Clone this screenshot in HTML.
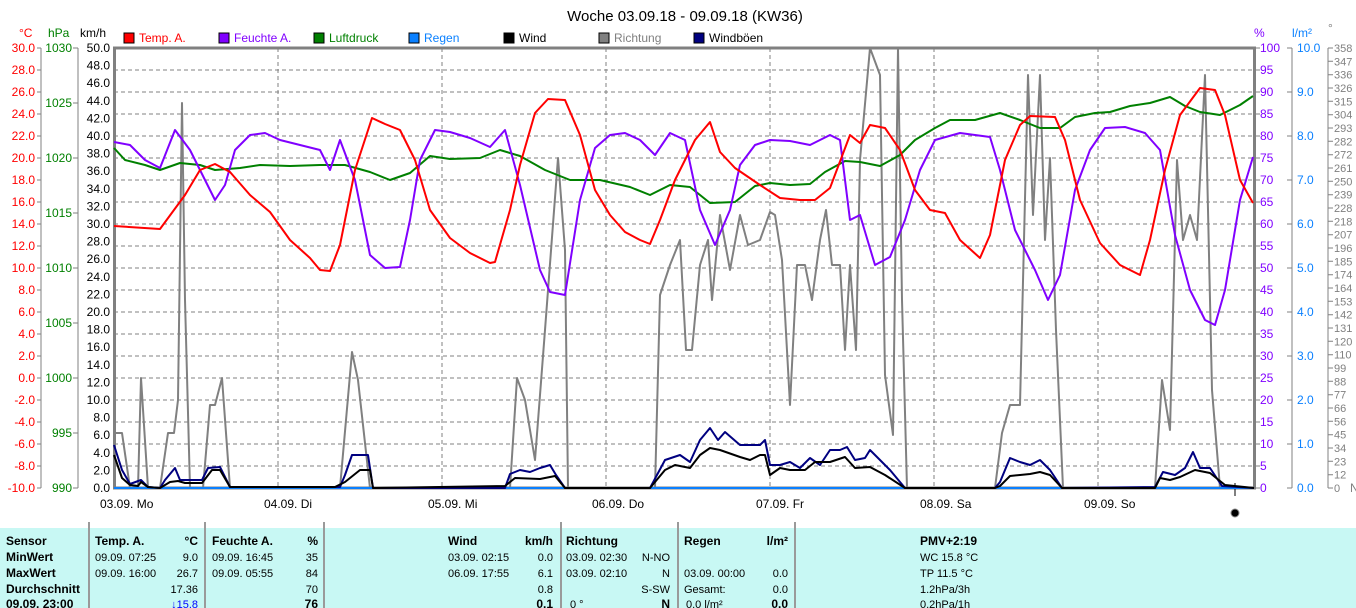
<!DOCTYPE html>
<html><head><meta charset="utf-8"><style>
html,body{margin:0;padding:0;background:#fff;width:1356px;height:608px;overflow:hidden}
svg{display:block;font-family:"Liberation Sans",sans-serif}
</style></head><body>
<svg width="1356" height="608" viewBox="0 0 1356 608" xmlns="http://www.w3.org/2000/svg">
<rect width="1356" height="608" fill="#fff"/>
<text x="685" y="21" font-size="15" text-anchor="middle" fill="#000">Woche 03.09.18 - 09.09.18 (KW36)</text>
<g font-size="12">
<rect x="124" y="33" width="10" height="10" fill="#ff0000" stroke="#000"/><text x="139" y="42" fill="#ff0000">Temp. A.</text>
<rect x="219" y="33" width="10" height="10" fill="#8000ff" stroke="#000"/><text x="234" y="42" fill="#8000ff">Feuchte A.</text>
<rect x="314" y="33" width="10" height="10" fill="#008000" stroke="#000"/><text x="329" y="42" fill="#008000">Luftdruck</text>
<rect x="409" y="33" width="10" height="10" fill="#0a80ff" stroke="#000"/><text x="424" y="42" fill="#0a80ff">Regen</text>
<rect x="504" y="33" width="10" height="10" fill="#000" stroke="#000"/><text x="519" y="42" fill="#000">Wind</text>
<rect x="599" y="33" width="10" height="10" fill="#808080" stroke="#000"/><text x="614" y="42" fill="#808080">Richtung</text>
<rect x="694" y="33" width="10" height="10" fill="#000080" stroke="#000"/><text x="709" y="42" fill="#000">Windböen</text>
</g>
<g font-size="12">
<text x="19" y="37" fill="#ff0000">°C</text>
<text x="48" y="37" fill="#008000">hPa</text>
<text x="80" y="37" fill="#000">km/h</text>
<text x="1254" y="37" fill="#8000ff">%</text>
<text x="1292" y="37" fill="#0a80ff">l/m²</text>
<text x="1328" y="32" fill="#808080">°</text>
</g>
<g stroke="#808080" stroke-dasharray="4,3" stroke-width="1">
<path d="M114 70H1255M114 92H1255M114 114H1255M114 136H1255M114 158H1255M114 180H1255M114 202H1255M114 224H1255M114 246H1255M114 268H1255M114 290H1255M114 312H1255M114 334H1255M114 356H1255M114 378H1255M114 400H1255M114 422H1255M114 444H1255M114 466H1255"/>
<path d="M278 48V488M442 48V488M606 48V488M770 48V488M934 48V488M1098 48V488"/>
</g>
<g stroke="#808080" stroke-width="1" fill="none">
<path d="M41 48V488M78 48V488M1292 48V488M1328 48V488"/>
</g>
<rect x="114.5" y="48" width="1140" height="440" fill="none" stroke="#808080" stroke-width="3"/>
<g font-size="12" fill="#ff0000" text-anchor="end">
<text x="35" y="52">30.0</text><text x="35" y="74">28.0</text><text x="35" y="96">26.0</text><text x="35" y="118">24.0</text><text x="35" y="140">22.0</text><text x="35" y="162">20.0</text><text x="35" y="184">18.0</text><text x="35" y="206">16.0</text><text x="35" y="228">14.0</text><text x="35" y="250">12.0</text><text x="35" y="272">10.0</text><text x="35" y="294">8.0</text><text x="35" y="316">6.0</text><text x="35" y="338">4.0</text><text x="35" y="360">2.0</text><text x="35" y="382">0.0</text><text x="35" y="404">-2.0</text><text x="35" y="426">-4.0</text><text x="35" y="448">-6.0</text><text x="35" y="470">-8.0</text><text x="35" y="492">-10.0</text>
</g>
<g stroke="#808080"><path d="M37 48h4M37 70h4M37 92h4M37 114h4M37 136h4M37 158h4M37 180h4M37 202h4M37 224h4M37 246h4M37 268h4M37 290h4M37 312h4M37 334h4M37 356h4M37 378h4M37 400h4M37 422h4M37 444h4M37 466h4M37 488h4"/>
<path d="M73 48h5M73 103h5M73 158h5M73 213h5M73 268h5M73 323h5M73 378h5M73 433h5M73 488h5"/>
<path d="M1255 48h5M1255 70h5M1255 92h5M1255 114h5M1255 136h5M1255 158h5M1255 180h5M1255 202h5M1255 224h5M1255 246h5M1255 268h5M1255 290h5M1255 312h5M1255 334h5M1255 356h5M1255 378h5M1255 400h5M1255 422h5M1255 444h5M1255 466h5M1255 488h5"/>
<path d="M1287 48h5M1287 92h5M1287 136h5M1287 180h5M1287 224h5M1287 268h5M1287 312h5M1287 356h5M1287 400h5M1287 444h5M1287 488h5"/>
</g>
<g font-size="12" fill="#008000" text-anchor="end">
<text x="72" y="52">1030</text><text x="72" y="107">1025</text><text x="72" y="162">1020</text><text x="72" y="217">1015</text><text x="72" y="272">1010</text><text x="72" y="327">1005</text><text x="72" y="382">1000</text><text x="72" y="437">995</text><text x="72" y="492">990</text>
</g>
<g font-size="12" fill="#000" text-anchor="end">
<text x="110" y="52">50.0</text><text x="110" y="69.6">48.0</text><text x="110" y="87.2">46.0</text><text x="110" y="104.8">44.0</text><text x="110" y="122.4">42.0</text><text x="110" y="140">40.0</text><text x="110" y="157.6">38.0</text><text x="110" y="175.2">36.0</text><text x="110" y="192.8">34.0</text><text x="110" y="210.4">32.0</text><text x="110" y="228">30.0</text><text x="110" y="245.6">28.0</text><text x="110" y="263.2">26.0</text><text x="110" y="280.8">24.0</text><text x="110" y="298.4">22.0</text><text x="110" y="316">20.0</text><text x="110" y="333.6">18.0</text><text x="110" y="351.2">16.0</text><text x="110" y="368.8">14.0</text><text x="110" y="386.4">12.0</text><text x="110" y="404">10.0</text><text x="110" y="421.6">8.0</text><text x="110" y="439.2">6.0</text><text x="110" y="456.8">4.0</text><text x="110" y="474.4">2.0</text><text x="110" y="492">0.0</text>
</g>
<g font-size="12" fill="#8000ff">
<text x="1260" y="52">100</text><text x="1260" y="74">95</text><text x="1260" y="96">90</text><text x="1260" y="118">85</text><text x="1260" y="140">80</text><text x="1260" y="162">75</text><text x="1260" y="184">70</text><text x="1260" y="206">65</text><text x="1260" y="228">60</text><text x="1260" y="250">55</text><text x="1260" y="272">50</text><text x="1260" y="294">45</text><text x="1260" y="316">40</text><text x="1260" y="338">35</text><text x="1260" y="360">30</text><text x="1260" y="382">25</text><text x="1260" y="404">20</text><text x="1260" y="426">15</text><text x="1260" y="448">10</text><text x="1260" y="470">5</text><text x="1260" y="492">0</text>
</g>
<g font-size="12" fill="#0a80ff">
<text x="1297" y="52">10.0</text><text x="1297" y="96">9.0</text><text x="1297" y="140">8.0</text><text x="1297" y="184">7.0</text><text x="1297" y="228">6.0</text><text x="1297" y="272">5.0</text><text x="1297" y="316">4.0</text><text x="1297" y="360">3.0</text><text x="1297" y="404">2.0</text><text x="1297" y="448">1.0</text><text x="1297" y="492">0.0</text>
</g>
<g stroke="#808080"><path d="M1328 48h5M1328 61.3h5M1328 74.7h5M1328 88h5M1328 101.3h5M1328 114.7h5M1328 128h5M1328 141.3h5M1328 154.7h5M1328 168h5M1328 181.3h5M1328 194.7h5M1328 208h5M1328 221.3h5M1328 234.7h5M1328 248h5M1328 261.3h5M1328 274.7h5M1328 288h5M1328 301.3h5M1328 314.7h5M1328 328h5M1328 341.3h5M1328 354.7h5M1328 368h5M1328 381.3h5M1328 394.7h5M1328 408h5M1328 421.3h5M1328 434.7h5M1328 448h5M1328 461.3h5M1328 474.7h5M1328 488h5"/></g>
<g font-size="11" fill="#808080">
<text x="1334" y="52">358</text><text x="1334" y="65.3">347</text><text x="1334" y="78.7">336</text><text x="1334" y="92">326</text><text x="1334" y="105.3">315</text><text x="1334" y="118.7">304</text><text x="1334" y="132">293</text><text x="1334" y="145.3">282</text><text x="1334" y="158.7">272</text><text x="1334" y="172">261</text><text x="1334" y="185.3">250</text><text x="1334" y="198.7">239</text><text x="1334" y="212">228</text><text x="1334" y="225.3">218</text><text x="1334" y="238.7">207</text><text x="1334" y="252">196</text><text x="1334" y="265.3">185</text><text x="1334" y="278.7">174</text><text x="1334" y="292">164</text><text x="1334" y="305.3">153</text><text x="1334" y="318.7">142</text><text x="1334" y="332">131</text><text x="1334" y="345.3">120</text><text x="1334" y="358.7">110</text><text x="1334" y="372">99</text><text x="1334" y="385.3">88</text><text x="1334" y="398.7">77</text><text x="1334" y="412">66</text><text x="1334" y="425.3">56</text><text x="1334" y="438.7">45</text><text x="1334" y="452">34</text><text x="1334" y="465.3">23</text><text x="1334" y="478.7">12</text><text x="1334" y="492">0</text>
</g>
<text x="1350" y="492" font-size="12" fill="#808080">N</text>
<g font-size="12" fill="#000">
<text x="100" y="508">03.09.  Mo</text><text x="264" y="508">04.09.  Di</text><text x="428" y="508">05.09.  Mi</text><text x="592" y="508">06.09.  Do</text><text x="756" y="508">07.09.  Fr</text><text x="920" y="508">08.09.  Sa</text><text x="1084" y="508">09.09.  So</text>
</g>
<path d="M1235 483V496" stroke="#000"/>
<circle cx="1235" cy="513" r="4" fill="#000" stroke="#888" stroke-width="1"/>
<g fill="none" stroke-width="2" stroke-linejoin="round">
<polyline stroke="#808080" points="114,433 122,433 130,488 138,488 141,378 148,488 160,488 168,433 174,433 178,400 182,103 185,300 190,488 203,488 210,405 215,405 222,378 230,488 340,488 352,352 358,380 370,488 510,488 517,378 525,400 535,460 545,330 558,158 565,250 568,488 655,488 660,295 670,265 680,240 686,350 692,350 700,265 708,240 712,300 720,215 730,270 740,215 748,245 760,240 770,212 775,215 782,260 790,405 797,265 805,265 812,300 820,240 826,210 832,265 840,265 845,350 850,265 856,350 860,160 870,48 880,75 885,375 893,435 898,48 902,300 907,488 995,488 1002,433 1010,405 1020,405 1028,75 1033,215 1040,75 1045,240 1050,158 1056,330 1063,488 1155,488 1162,380 1170,430 1177,160 1183,240 1190,215 1197,240 1205,75 1212,390 1220,488 1254,488"/>
<line x1="114" y1="488" x2="1254" y2="488" stroke="#0a80ff"/>
<polyline stroke="#000080" points="114,445 122,470 130,484 141,480 148,487 160,488 165,480 175,468 180,480 202,480 208,468 220,467 230,487 340,487 345,475 352,455 368,455 373,488 505,488 510,474 520,470 530,472 540,468 550,465 556,475 565,488 650,488 665,460 680,455 690,462 700,440 710,428 718,440 725,432 740,445 760,445 765,440 770,465 780,465 790,462 800,468 810,458 820,465 830,450 840,450 847,447 855,460 865,458 870,450 880,460 890,470 905,488 995,488 1000,482 1010,458 1020,462 1030,465 1040,460 1050,470 1062,488 1155,487 1163,472 1175,475 1185,468 1193,452 1200,468 1210,468 1222,486 1254,488"/>
<polyline stroke="#000" points="114,455 122,478 130,485 138,486 141,482 148,487 160,488 170,482 178,481 185,483 202,483 212,470 220,470 230,487 335,487 345,482 360,470 370,470 373,488 505,486 515,478 540,479 555,476 565,488 650,488 665,470 675,465 690,468 700,455 710,448 720,450 740,457 750,460 760,455 765,455 770,475 780,468 790,470 805,470 815,462 830,462 845,457 855,468 870,467 885,475 905,488 995,488 1000,486 1010,476 1020,475 1030,474 1040,472 1050,475 1062,488 1155,488 1160,478 1170,480 1180,477 1195,470 1210,473 1225,485 1254,488"/>
<polyline stroke="#008000" points="114,148 125,160 145,165 160,170 180,163 200,165 215,170 240,168 260,165 290,166 320,165 345,165 370,172 390,180 410,173 430,156 450,159 480,158 500,150 520,156 545,170 570,180 600,180 630,187 650,195 670,185 690,187 710,203 735,202 755,186 770,183 790,185 810,184 825,172 845,161 860,162 880,166 900,155 915,140 935,128 950,120 975,120 1000,113 1020,120 1040,128 1060,128 1075,117 1095,113 1110,112 1130,106 1150,103 1170,97 1185,106 1200,112 1220,115 1240,105 1253,96"/>
<polyline stroke="#8000ff" points="114,142 130,145 145,160 160,168 175,130 190,150 205,180 215,200 225,185 235,150 250,135 265,133 280,140 300,145 320,150 330,170 340,140 355,180 370,255 385,268 400,267 410,220 420,160 435,130 450,132 470,138 490,147 505,130 520,185 540,270 550,292 565,295 580,200 595,148 610,135 625,133 640,140 655,155 670,133 685,140 700,210 715,245 730,210 740,165 755,145 770,140 790,141 810,145 830,135 840,140 850,220 860,215 875,265 890,257 905,220 920,170 935,140 960,133 990,137 1000,170 1015,230 1035,270 1048,300 1060,275 1075,190 1090,150 1105,128 1125,127 1145,133 1160,150 1175,235 1190,290 1205,320 1215,325 1225,290 1240,200 1253,157"/>
<polyline stroke="#ff0000" points="114,226 160,229 185,195 200,170 215,164 230,172 250,195 270,212 290,240 310,258 320,270 330,271 340,245 355,170 372,118 385,124 400,130 415,160 430,210 450,238 470,253 490,263 495,262 510,210 520,165 535,113 548,99 565,100 580,135 595,190 610,215 625,232 640,240 650,244 660,220 675,180 695,140 710,122 720,152 735,168 760,185 780,198 800,200 815,200 830,188 850,135 860,143 870,125 885,128 900,150 915,190 930,210 945,213 960,240 980,258 990,235 1005,160 1020,125 1030,116 1055,117 1065,140 1080,200 1100,243 1120,265 1140,275 1150,240 1165,170 1180,115 1200,88 1215,90 1225,115 1240,180 1253,203"/>
</g>
<rect x="0" y="528" width="1356" height="80" fill="#c8f8f4"/>
<g stroke="#9a9a9a" stroke-width="2"><path d="M89 522V608M205 522V608M324 522V608M561 522V608M678 522V608M795 522V608"/></g>
<g font-size="12" fill="#000">
<g font-weight="bold">
<text x="6" y="545">Sensor</text><text x="6" y="561">MinWert</text><text x="6" y="577">MaxWert</text><text x="6" y="593">Durchschnitt</text><text x="6" y="608">09.09. 23:00</text>
<text x="95" y="545">Temp. A.</text><text x="198" y="545" text-anchor="end">°C</text>
<text x="212" y="545">Feuchte A.</text><text x="318" y="545" text-anchor="end">%</text>
<text x="448" y="545">Wind</text><text x="553" y="545" text-anchor="end">km/h</text>
<text x="566" y="545">Richtung</text>
<text x="684" y="545">Regen</text><text x="788" y="545" text-anchor="end">l/m²</text>
<text x="920" y="545">PMV+2:19</text>
<text x="318" y="608" text-anchor="end">76</text><text x="553" y="608" text-anchor="end">0.1</text><text x="670" y="608" text-anchor="end">N</text><text x="788" y="608" text-anchor="end">0.0</text>
</g>
<g font-size="11">
<text x="95" y="561">09.09.  07:25</text><text x="198" y="561" text-anchor="end">9.0</text>
<text x="95" y="577">09.09.  16:00</text><text x="198" y="577" text-anchor="end">26.7</text>
<text x="198" y="593" text-anchor="end">17.36</text>
<text x="198" y="608" text-anchor="end" fill="#0000ff">↓15.8</text>
<text x="212" y="561">09.09.  16:45</text><text x="318" y="561" text-anchor="end">35</text>
<text x="212" y="577">09.09.  05:55</text><text x="318" y="577" text-anchor="end">84</text>
<text x="318" y="593" text-anchor="end">70</text>
<text x="448" y="561">03.09.  02:15</text><text x="553" y="561" text-anchor="end">0.0</text>
<text x="448" y="577">06.09.  17:55</text><text x="553" y="577" text-anchor="end">6.1</text>
<text x="553" y="593" text-anchor="end">0.8</text>
<text x="566" y="561">03.09.  02:30</text><text x="670" y="561" text-anchor="end">N-NO</text>
<text x="566" y="577">03.09.  02:10</text><text x="670" y="577" text-anchor="end">N</text>
<text x="670" y="593" text-anchor="end">S-SW</text>
<text x="570" y="608">0 °</text>
<text x="684" y="577">03.09.  00:00</text><text x="788" y="577" text-anchor="end">0.0</text>
<text x="684" y="593">Gesamt:</text><text x="788" y="593" text-anchor="end">0.0</text>
<text x="686" y="608">0.0 l/m²</text>
<text x="920" y="561">WC 15.8 °C</text>
<text x="920" y="577">TP 11.5 °C</text>
<text x="920" y="593">1.2hPa/3h</text>
<text x="920" y="608">0.2hPa/1h</text>
</g>
</g>
</svg>
</body></html>
